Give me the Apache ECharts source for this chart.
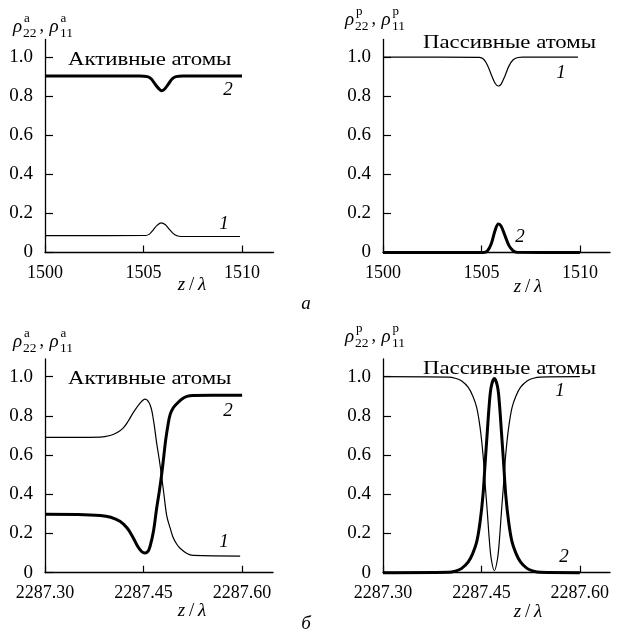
<!DOCTYPE html>
<html>
<head>
<meta charset="utf-8">
<script src="https://cdn.jsdelivr.net/npm/echarts@6/dist/echarts.min.js"></script>
<style>html,body{margin:0;padding:0;background:#fff}#c{width:617px;height:636px}</style>
</head>
<body>
<div id="c"></div>
<script>
// ---- tick values ----
const yTicks = [0, 0.2, 0.4, 0.6, 0.8, 1.0];
const xTicksTop = [1500, 1505, 1510];
const xTicksBottom = [2287.30, 2287.45, 2287.60];

// ---- panel a (active atoms, top) ----
const aZ2 = [1500, 1504.8, 1505.2, 1505.4, 1505.6, 1505.8, 1505.92, 1506.05, 1506.25, 1506.45, 1506.65, 1507, 1510];
const aV2 = [0.903, 0.903, 0.900, 0.888, 0.860, 0.836, 0.828, 0.834, 0.860, 0.888, 0.900, 0.903, 0.903];
const aZ1 = [1500, 1505.1, 1505.3, 1505.5, 1505.7, 1505.9, 1506.1, 1506.3, 1506.5, 1506.7, 1506.9, 1509.9];
const aV1 = [0.086, 0.087, 0.094, 0.116, 0.140, 0.152, 0.143, 0.120, 0.098, 0.086, 0.082, 0.082];

// ---- panel a (passive atoms, top) ----
const bZ1 = [1500, 1504.9, 1505.1, 1505.3, 1505.5, 1505.7, 1505.86, 1506.0, 1506.2, 1506.4, 1506.6, 1506.85, 1507.1, 1509.9];
const bV1 = [1.0, 0.999, 0.99, 0.96, 0.91, 0.865, 0.852, 0.862, 0.905, 0.955, 0.985, 0.998, 1.0, 1.0];
const bZ2 = [1500, 1505.1, 1505.3, 1505.5, 1505.7, 1505.86, 1506.0, 1506.2, 1506.4, 1506.6, 1506.8, 1510];
const bV2 = [0, 0, 0.008, 0.045, 0.115, 0.146, 0.135, 0.085, 0.035, 0.01, 0.001, 0];

// ---- panel b (active atoms, bottom) ----
const cZ2 = [2287.300, 2287.350, 2287.384, 2287.400, 2287.414, 2287.425, 2287.434, 2287.441, 2287.447, 2287.452, 2287.457, 2287.460, 2287.465, 2287.470, 2287.474, 2287.4775, 2287.481, 2287.4838, 2287.487, 2287.4903, 2287.495, 2287.5006, 2287.508, 2287.516, 2287.525, 2287.600];
const cV2 = [0.298, 0.297, 0.292, 0.283, 0.262, 0.228, 0.180, 0.135, 0.108, 0.100, 0.110, 0.135, 0.21, 0.33, 0.415, 0.50, 0.60, 0.68, 0.75, 0.805, 0.840, 0.862, 0.885, 0.899, 0.904, 0.905];
const cZ1 = [2287.300, 2287.384, 2287.399, 2287.410, 2287.4188, 2287.427, 2287.434, 2287.4447, 2287.4523, 2287.460, 2287.465, 2287.470, 2287.474, 2287.4775, 2287.481, 2287.4853, 2287.4903, 2287.495, 2287.5006, 2287.5056, 2287.516, 2287.5255, 2287.597];
const cV1 = [0.690, 0.692, 0.700, 0.715, 0.737, 0.775, 0.815, 0.865, 0.885, 0.855, 0.78, 0.66, 0.575, 0.49, 0.40, 0.29, 0.23, 0.18, 0.145, 0.125, 0.098, 0.088, 0.085];

// ---- panel b (passive atoms, bottom) ----
const dZ = [2287.300, 2287.400, 2287.410, 2287.420, 2287.430, 2287.437, 2287.443, 2287.448, 2287.4525, 2287.4555, 2287.459, 2287.462, 2287.465, 2287.4697, 2287.4745, 2287.4775, 2287.4805, 2287.484, 2287.487, 2287.4915, 2287.4965, 2287.5025, 2287.5095, 2287.5195, 2287.5295, 2287.5395, 2287.600];
const dV2 = [0, 0.002, 0.008, 0.022, 0.055, 0.10, 0.16, 0.26, 0.40, 0.55, 0.72, 0.86, 0.95, 0.99, 0.95, 0.86, 0.72, 0.55, 0.40, 0.26, 0.16, 0.10, 0.055, 0.022, 0.008, 0.002, 0];
const dV1 = [1.0, 0.998, 0.992, 0.978, 0.945, 0.90, 0.84, 0.74, 0.60, 0.46, 0.31, 0.17, 0.07, 0.01, 0.07, 0.17, 0.31, 0.46, 0.60, 0.74, 0.84, 0.90, 0.945, 0.978, 0.992, 0.998, 1.0];

// ---- texts ----
const activeTitle = 'Активные атомы';
const passiveTitle = 'Пассивные атомы';
const xName = ['z', '/', 'λ'];

const FONT = '"Liberation Serif", "Times New Roman", serif';
const zip = (xs, ys) => xs.map((x, i) => [x, ys[i]]);

const grids = [
  {left: 45, top: 39.5, width: 228.5, height: 213},
  {left: 383, top: 39.5, width: 227, height: 213},
  {left: 45, top: 359, width: 228, height: 213.7},
  {left: 383, top: 359, width: 227, height: 213.7}
];

function yAx(i) {
  return {
    gridIndex: i, type: 'value', min: 0, max: 1.09,
    axisLine: {show: true, lineStyle: {color: '#000', width: 1.3}},
    axisTick: {show: true, inside: true, length: 8, lineStyle: {color: '#000', width: 1.2}, customValues: yTicks},
    axisLabel: {show: true, customValues: yTicks, margin: 12, color: '#000', fontSize: 19, fontFamily: FONT,
      formatter: v => (Math.abs(v) < 1e-9 ? '0' : v.toFixed(1))},
    splitLine: {show: false}
  };
}
function xAx(i, min, max, ticks, dec) {
  return {
    gridIndex: i, type: 'value', min: min, max: max,
    axisLine: {show: true, onZero: false, lineStyle: {color: '#000', width: 1.3}},
    axisTick: {show: true, inside: true, length: 7, lineStyle: {color: '#000', width: 1.2}, customValues: ticks},
    axisLabel: {show: true, customValues: ticks, margin: 12, color: '#000', fontSize: 18, fontFamily: FONT,
      formatter: v => v.toFixed(dec)},
    splitLine: {show: false}
  };
}
function ser(i, xs, ys, w) {
  return {
    type: 'line', xAxisIndex: i, yAxisIndex: i, data: zip(xs, ys),
    showSymbol: false, smooth: 0.35, clip: false,
    lineStyle: {color: '#000', width: w}, silent: true
  };
}

function txt(x, y, s, size, italic, align, sx) {
  return {type: 'text', x: x, y: y, scaleX: sx || 1, silent: true,
    style: {text: s, fontSize: size, fontFamily: FONT, fontStyle: italic ? 'italic' : 'normal',
      fill: '#000', align: align || 'left', verticalAlign: 'middle'}};
}
function rhoLabel(x0, B, sup) {
  return [
    txt(x0, B - 6.3, 'ρ', 19, true),
    txt(x0 + 11, B - 14.3, sup, 13, false),
    txt(x0 + 10, B, '22', 13.5, false),
    txt(x0 + 26.5, B - 6.3, ',', 18, false),
    txt(x0 + 36.5, B - 6.3, 'ρ', 19, true),
    txt(x0 + 47.5, B - 14.3, sup, 13, false),
    txt(x0 + 47, B, '11', 13.5, false)
  ];
}
function zLabel(cx, cy) {
  return {type: 'text', x: cx, y: cy, silent: true,
    style: {text: '{i|' + xName[0] + '}\u2009' + xName[1] + '\u2009{i|' + xName[2] + '}', fontSize: 19, fontFamily: FONT,
      fill: '#000', align: 'center', verticalAlign: 'middle',
      rich: {i: {fontStyle: 'italic', fontSize: 19, fontFamily: FONT, fill: '#000'}}}};
}

const graphics = [].concat(
  rhoLabel(13, 33, 'a'), rhoLabel(345, 26, 'p'), rhoLabel(13, 348, 'a'), rhoLabel(345, 343, 'p'),
  [
    txt(68, 60, activeTitle, 19, false, 'left', 1.2),
    txt(423, 43, passiveTitle, 19, false, 'left', 1.2),
    txt(68, 379, activeTitle, 19, false, 'left', 1.2),
    txt(423, 369, passiveTitle, 19, false, 'left', 1.2),
    txt(228, 90, '2', 19, true, 'center'),
    txt(224, 224, '1', 19, true, 'center'),
    txt(561, 73, '1', 19, true, 'center'),
    txt(520, 237, '2', 19, true, 'center'),
    txt(228, 411, '2', 19, true, 'center'),
    txt(224, 542, '1', 19, true, 'center'),
    txt(560, 391, '1', 19, true, 'center'),
    txt(564, 557, '2', 19, true, 'center'),
    zLabel(192, 285), zLabel(528, 287), zLabel(192, 611), zLabel(528, 612),
    txt(306, 304, 'а', 19, true, 'center'),
    txt(306, 624, 'б', 19, true, 'center')
  ]
);

const chart = echarts.init(document.getElementById('c'), null, {renderer: 'canvas'});
chart.setOption({
  animation: false,
  backgroundColor: '#fff',
  grid: grids,
  xAxis: [
    xAx(0, 1500, 1511.6, xTicksTop, 0),
    xAx(1, 1500, 1511.53, xTicksTop, 0),
    xAx(2, 2287.30, 2287.647, xTicksBottom, 2),
    xAx(3, 2287.30, 2287.646, xTicksBottom, 2)
  ],
  yAxis: [yAx(0), yAx(1), yAx(2), yAx(3)],
  series: [
    ser(0, aZ2, aV2, 3), ser(0, aZ1, aV1, 1.2),
    ser(1, bZ1, bV1, 1.2), ser(1, bZ2, bV2, 3),
    ser(2, cZ2, cV2, 3), ser(2, cZ1, cV1, 1.2),
    ser(3, dZ, dV1, 1.2), ser(3, dZ, dV2, 3)
  ],
  graphic: graphics
});
</script>
</body>
</html>
